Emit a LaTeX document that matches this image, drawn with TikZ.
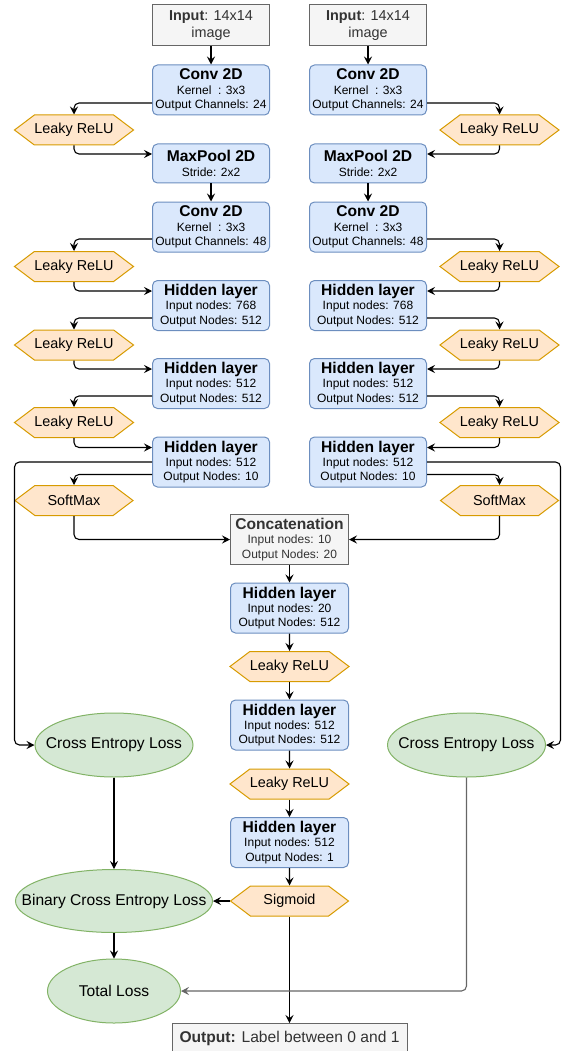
\documentclass[tikz,border=0pt]{standalone}
\usepackage{fontspec}
\setmainfont{Liberation Sans}
\usetikzlibrary{shapes.geometric, shapes.symbols, arrows.meta, positioning}

\definecolor{layerFill}{HTML}{DAE8FC}
\definecolor{layerLine}{HTML}{6C8EBF}
\definecolor{actFill}{HTML}{FFE6CC}
\definecolor{actLine}{HTML}{D79B00}
\definecolor{lossFill}{HTML}{D5E8D4}
\definecolor{lossLine}{HTML}{82B366}
\definecolor{ioFill}{HTML}{F5F5F5}
\definecolor{ioLine}{HTML}{666666}
\definecolor{ioText}{HTML}{333333}

\begin{document}
\begin{tikzpicture}[x=1pt, y=-1pt,
    layer/.style={draw=layerLine, fill=layerFill, rounded corners=5pt, line width=1pt,
      minimum width=117pt, minimum height=50pt, inner sep=0pt, align=center,
      font=\fontsize{12}{14.4}\selectfont},
    pool/.style={layer, minimum height=39pt},
    io/.style={draw=ioLine, fill=ioFill, line width=1pt, text=ioText, minimum width=117pt,
      minimum height=41pt, inner sep=0pt, align=center, font=\fontsize{14.4}{17}\selectfont},
    act/.style={signal, signal to=west and east, signal pointer angle=74, draw=actLine,
      fill=actFill, line width=1pt, minimum width=118pt, minimum height=30pt, inner sep=0pt,
      font=\fontsize{14.4}{17}\selectfont},
    loss/.style={ellipse, draw=lossLine, fill=lossFill, line width=1pt, inner sep=0pt,
      font=\fontsize{15.6}{18}\selectfont},
    conn/.style={-{Stealth[length=8pt,width=8pt,inset=3pt]}, line width=1.1pt, rounded corners=5pt},
  ]
  \useasboundingbox (0,0) rectangle (563,1051);

  % Title line of a layer box, and a fixed-width label for the loss ellipses
  \newcommand{\layerTitle}[1]{{\fontsize{15.6}{14.4}\selectfont\bfseries #1}}
  \newcommand{\lossText}[1]{\makebox[0pt]{#1}}

  % LEFT BRANCH
  \node[io] (inL) at (211,25.5) {\textbf{Input}: 14x14\\image};
  \node[layer] (convAL) at (211,90) {\layerTitle{Conv 2D}\\Kernel~~: 3x3\\Output Channels: 24};
  \node[act] (reluAL) at (74,130) {Leaky ReLU};
  \node[pool] (poolL) at (211,163.5) {\layerTitle{MaxPool 2D}\\Stride: 2x2};
  \node[layer] (convBL) at (211,227) {\layerTitle{Conv 2D}\\Kernel~~: 3x3\\Output Channels: 48};
  \node[act] (reluBL) at (74,266.5) {Leaky ReLU};
  \node[layer] (hidAL) at (211,305.5) {\layerTitle{Hidden layer}\\Input nodes: 768\\Output Nodes: 512};
  \node[act] (reluCL) at (74,345) {Leaky ReLU};
  \node[layer] (hidBL) at (211,383.5) {\layerTitle{Hidden layer}\\Input nodes: 512\\Output Nodes: 512};
  \node[act] (reluDL) at (74,422.5) {Leaky ReLU};
  \node[layer] (hidCL) at (211,462) {\layerTitle{Hidden layer}\\Input nodes: 512\\Output Nodes: 10};
  \node[act] (softL) at (74,500.5) {SoftMax};

  % RIGHT BRANCH
  \node[io] (inR) at (368,25.5) {\textbf{Input}: 14x14\\image};
  \node[layer] (convAR) at (368,90) {\layerTitle{Conv 2D}\\Kernel~~: 3x3\\Output Channels: 24};
  \node[act] (reluAR) at (499.5,130) {Leaky ReLU};
  \node[pool] (poolR) at (368,163.5) {\layerTitle{MaxPool 2D}\\Stride: 2x2};
  \node[layer] (convBR) at (368,227) {\layerTitle{Conv 2D}\\Kernel~~: 3x3\\Output Channels: 48};
  \node[act] (reluBR) at (499.5,266.5) {Leaky ReLU};
  \node[layer] (hidAR) at (368,305.5) {\layerTitle{Hidden layer}\\Input nodes: 768\\Output Nodes: 512};
  \node[act] (reluCR) at (499.5,345) {Leaky ReLU};
  \node[layer] (hidBR) at (368,383.5) {\layerTitle{Hidden layer}\\Input nodes: 512\\Output Nodes: 512};
  \node[act] (reluDR) at (499.5,422.5) {Leaky ReLU};
  \node[layer] (hidCR) at (368,462) {\layerTitle{Hidden layer}\\Input nodes: 512\\Output Nodes: 10};
  \node[act] (softR) at (499.5,500.5) {SoftMax};

  % JOINT HEAD
  \node[io, minimum width=118pt, minimum height=50pt, font=\fontsize{12}{14.4}\selectfont] (concat) at (289.5,539.5)
    {\layerTitle{Concatenation}\\Input nodes: 10\\Output Nodes: 20};
  \node[layer, minimum width=118pt] (hidAM) at (289.5,608) {\layerTitle{Hidden layer}\\Input nodes: 20\\Output Nodes: 512};
  \node[act] (reluAM) at (289.5,666.5) {Leaky ReLU};
  \node[layer, minimum width=118pt] (hidBM) at (289.5,725) {\layerTitle{Hidden layer}\\Input nodes: 512\\Output Nodes: 512};
  \node[act] (reluBM) at (289.5,784) {Leaky ReLU};
  \node[layer, minimum width=118pt] (hidCM) at (289.5,842.5) {\layerTitle{Hidden layer}\\Input nodes: 512\\Output Nodes: 1};
  \node[act] (sigm) at (289.5,901) {Sigmoid};
  \node[io, anchor=north, minimum width=235pt, minimum height=32pt, text depth=5pt, font=\fontsize{15.6}{18}\selectfont] (outp) at (289.5,1023)
    {\textbf{Output:} Label between 0 and 1};

  % LOSSES
  \node[loss, minimum width=158pt, minimum height=64pt] (ceL) at (114,745) {\lossText{Cross Entropy Loss}};
  \node[loss, minimum width=158pt, minimum height=64pt] (ceR) at (466.5,745) {\lossText{Cross Entropy Loss}};
  \node[loss, minimum width=197pt, minimum height=63pt] (bce) at (114,901) {\lossText{Binary Cross Entropy Loss}};
  \node[loss, minimum width=133pt, minimum height=64pt] (total) at (114,991) {\lossText{Total Loss}};

  % left branch connectors
  \draw[conn] (inL) -- (convAL);
  \draw[conn] ([yshift=-13pt]convAL.west) -| (reluAL.north);
  \draw[conn] (reluAL.south) |- ([yshift=9.5pt]poolL.west);
  \draw[conn] (poolL) -- (convBL);
  \draw[conn] ([yshift=-12pt]convBL.west) -| (reluBL.north);
  \draw[conn] (reluBL.south) |- ([yshift=14.5pt]hidAL.west);
  \draw[conn] ([yshift=-12.5pt]hidAL.west) -| (reluCL.north);
  \draw[conn] (reluCL.south) |- ([yshift=14.5pt]hidBL.west);
  \draw[conn] ([yshift=-12.5pt]hidBL.west) -| (reluDL.north);
  \draw[conn] (reluDL.south) |- ([yshift=14.5pt]hidCL.west);
  \draw[conn] ([yshift=-12.5pt]hidCL.west) -| (softL.north);
  \draw[conn] (hidCL.west) -- ++(-137.5,0) |- (ceL.west);
  \draw[conn] (softL.south) |- (concat.west);

  % right branch connectors
  \draw[conn] (inR) -- (convAR);
  \draw[conn] ([yshift=-13pt]convAR.east) -| (reluAR.north);
  \draw[conn] (reluAR.south) |- ([yshift=9.5pt]poolR.east);
  \draw[conn] (poolR) -- (convBR);
  \draw[conn] ([yshift=-12pt]convBR.east) -| (reluBR.north);
  \draw[conn] (reluBR.south) |- ([yshift=14.5pt]hidAR.east);
  \draw[conn] ([yshift=-12.5pt]hidAR.east) -| (reluCR.north);
  \draw[conn] (reluCR.south) |- ([yshift=14.5pt]hidBR.east);
  \draw[conn] ([yshift=-12.5pt]hidBR.east) -| (reluDR.north);
  \draw[conn] (reluDR.south) |- ([yshift=14.5pt]hidCR.east);
  \draw[conn] ([yshift=-12.5pt]hidCR.east) -| (softR.north);
  \draw[conn] (hidCR.east) -- ++(133.5,0) |- (ceR.east);
  \draw[conn] (softR.south) |- (concat.east);

  % joint head connectors
  \draw[conn] (concat) -- (hidAM);
  \draw[conn] (hidAM) -- (reluAM);
  \draw[conn] (reluAM) -- (hidBM);
  \draw[conn] (hidBM) -- (reluBM);
  \draw[conn] (reluBM) -- (hidCM);
  \draw[conn] (hidCM) -- (sigm);
  \draw[conn] (sigm.west) -- (bce.east);
  \draw[conn] (sigm.south) -- (outp.north);

  % loss connectors
  \draw[conn] (ceL) -- (bce);
  \draw[conn] (bce) -- (total);
  \draw[conn, black!60] (ceR.south) |- (total.east);
\end{tikzpicture}
\end{document}
